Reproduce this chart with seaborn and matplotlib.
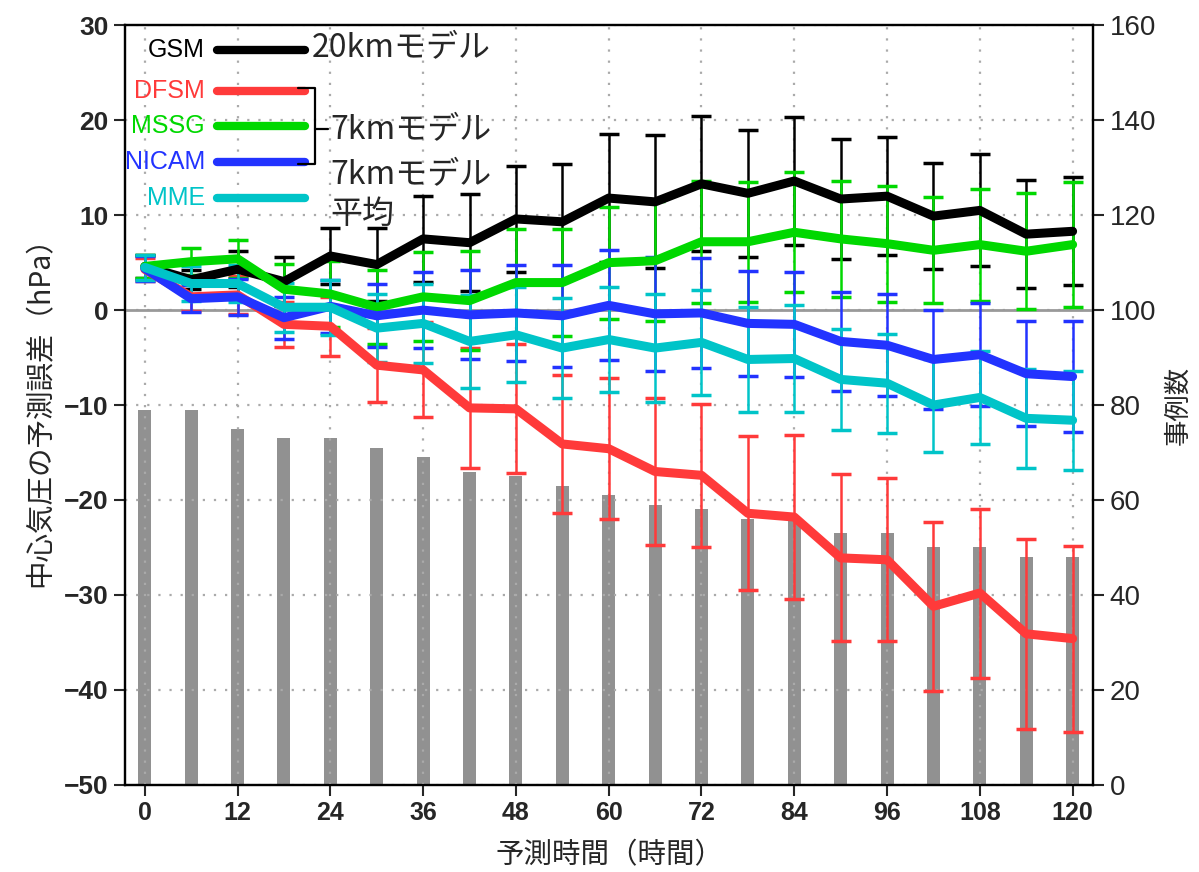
import numpy as np
import pandas as pd
import matplotlib
matplotlib.use('Agg')
import matplotlib.pyplot as plt
import seaborn as sns

# forecast hours
hours = [0, 6, 12, 18, 24, 30, 36, 42, 48, 54, 60, 66, 72, 78, 84, 90, 96, 102, 108, 114, 120]

# number of cases (right axis)
counts = [79, 79, 75, 73, 73, 71, 69, 66, 65, 63, 61, 59, 58, 56, 56, 53, 53, 50, 50, 48, 48]

# mean central pressure error (hPa) and spread for each model
gsm_mean = [4.6, 3.2, 4.3, 3.0, 5.7, 4.8, 7.5, 7.1, 9.6, 9.3, 11.8, 11.4, 13.3, 12.3, 13.6, 11.7, 12.0, 9.9, 10.5, 8.0, 8.3]
gsm_sd = [1.2, 1.0, 1.9, 2.6, 2.9, 3.8, 4.5, 5.1, 5.6, 6.1, 6.7, 7.0, 7.1, 6.7, 6.7, 6.3, 6.2, 5.6, 5.9, 5.7, 5.7]

dfsm_mean = [4.3, 1.4, 1.6, -1.5, -1.7, -5.8, -6.3, -10.3, -10.4, -14.1, -14.6, -17.0, -17.4, -21.4, -21.8, -26.1, -26.3, -31.2, -29.8, -34.1, -34.6]
dfsm_sd = [1.2, 1.5, 2.0, 2.4, 3.1, 3.9, 5.0, 6.3, 6.8, 7.3, 7.4, 7.7, 7.5, 8.1, 8.6, 8.8, 8.6, 8.9, 8.9, 10.0, 9.8]

mssg_mean = [4.6, 5.1, 5.4, 2.2, 1.7, 0.3, 1.4, 1.0, 2.9, 2.9, 5.0, 5.2, 7.2, 7.2, 8.2, 7.5, 7.0, 6.3, 6.9, 6.2, 6.9]
mssg_sd = [1.2, 1.4, 2.0, 2.7, 3.5, 3.9, 4.7, 5.2, 5.6, 5.6, 5.9, 6.3, 6.4, 6.3, 6.3, 6.1, 6.1, 5.6, 5.9, 6.1, 6.6]

nicam_mean = [4.4, 1.2, 1.4, -0.8, 0.4, -0.6, 0.0, -0.5, -0.3, -0.6, 0.5, -0.4, -0.3, -1.4, -1.5, -3.3, -3.7, -5.2, -4.7, -6.7, -7.0]
nicam_sd = [1.3, 1.4, 1.9, 2.2, 2.8, 3.3, 4.0, 4.7, 5.1, 5.4, 5.8, 6.0, 5.8, 5.5, 5.5, 5.2, 5.4, 5.2, 5.4, 5.5, 5.8]

mme_mean = [4.5, 2.8, 2.8, 0.3, 0.3, -1.9, -1.4, -3.3, -2.6, -4.0, -3.1, -4.0, -3.4, -5.2, -5.1, -7.3, -7.7, -10.0, -9.2, -11.4, -11.6]
mme_sd = [1.3, 1.8, 1.9, 2.6, 2.9, 3.6, 4.2, 4.9, 5.0, 5.3, 5.5, 5.7, 5.5, 5.5, 5.6, 5.3, 5.2, 4.9, 4.9, 5.2, 5.2]

models = ['GSM', 'DFSM', 'MSSG', 'NICAM', 'MME']
colors = {
    'GSM': '#000000',
    'DFSM': '#ff3a3a',
    'MSSG': '#00d800',
    'NICAM': '#2233ff',
    'MME': '#00c4c8',
}

means = {'GSM': gsm_mean, 'DFSM': dfsm_mean, 'MSSG': mssg_mean, 'NICAM': nicam_mean, 'MME': mme_mean}
sds = {'GSM': gsm_sd, 'DFSM': dfsm_sd, 'MSSG': mssg_sd, 'NICAM': nicam_sd, 'MME': mme_sd}

df = pd.concat([
    pd.DataFrame({'hour': hours, 'model': m, 'error': means[m], 'sd': sds[m]})
    for m in models
], ignore_index=True)

sns.set_style('ticks')
plt.rcParams['font.family'] = ['Liberation Sans', 'Noto Sans CJK JP', 'DejaVu Sans']
jp = ['Noto Sans CJK JP', 'DejaVu Sans']

fig = plt.figure(figsize=(11.99, 8.72), dpi=100)
ax = fig.add_axes([0.104, 0.1, 0.808, 0.871])
ax2 = ax.twinx()

# case counts as gray bars on right axis
sns.barplot(x=hours, y=counts, native_scale=True, width=0.28, color='#919191',
            saturation=1, edgecolor='none', ax=ax2)
ax2.set_ylim(0, 160)
ax2.set_yticks(np.arange(0, 161, 20))
ax2.set_ylabel('事例数', family=jp, fontsize=19, labelpad=6)
ax2.tick_params(axis='y', labelsize=20, length=8, width=1.5, direction='out')

# lines on top of bars
ax.set_zorder(ax2.get_zorder() + 1)
ax.patch.set_visible(False)

for m in models:
    d = df[df['model'] == m]
    ax.errorbar(d['hour'], d['error'], yerr=d['sd'], fmt='none', ecolor=colors[m],
                elinewidth=1.8, capsize=7, capthick=2.5, zorder=2)

sns.lineplot(data=df, x='hour', y='error', hue='model', hue_order=models,
             palette=colors, linewidth=6.5, legend=False, errorbar=None,
             ax=ax, zorder=3)

ax.axhline(0, color='#999999', lw=2, zorder=1.5)

ax.set_xlim(-2.6, 122.7)
ax.set_ylim(-50, 30)
ax.set_xticks(np.arange(0, 121, 12))
ax.set_yticks(np.arange(-50, 31, 10))
ax.grid(True, linestyle=(0, (1, 4)), color='#aaaaaa', lw=1.6)
ax.tick_params(axis='both', length=8, width=1.5, direction='out')
for lab in ax.get_yticklabels():
    lab.set_fontweight('bold')
    lab.set_fontsize(19)
for lab in ax.get_xticklabels():
    lab.set_fontweight('bold')
    lab.set_fontsize(18)

ax.set_xlabel('予測時間（時間）', family=jp, fontsize=20.5, labelpad=11)
ax.set_ylabel('中心気圧の予測誤差（hPa）', family=jp, fontsize=20.5, labelpad=6)

for sp in ax.spines.values():
    sp.set_linewidth(1.6)
    sp.set_color('black')
for sp in ax2.spines.values():
    sp.set_linewidth(1.6)

# hand-drawn legend in the upper left corner
leg_y = [0.968, 0.914, 0.868, 0.820, 0.772]
for m, yy in zip(models, leg_y):
    ax.plot([0.095, 0.186], [yy, yy], transform=ax.transAxes, color=colors[m],
            lw=6, solid_capstyle='round', zorder=5)
    ax.text(0.083, yy, m, transform=ax.transAxes, color=colors[m], fontsize=18,
            ha='right', va='center', zorder=5)

# bracket for the 7km models
ax.plot([0.179, 0.196, 0.196, 0.179], [0.918, 0.918, 0.818, 0.818],
        transform=ax.transAxes, color='black', lw=1.6, zorder=5)
ax.plot([0.196, 0.210], [0.864, 0.864], transform=ax.transAxes, color='black', lw=1.6, zorder=5)

ax.text(0.193, 0.970, '20kmモデル', transform=ax.transAxes, family=jp, fontsize=23,
        ha='left', va='center', zorder=5)
ax.text(0.212, 0.862, '7kmモデル', transform=ax.transAxes, family=jp, fontsize=23,
        ha='left', va='center', zorder=5)
ax.text(0.212, 0.803, '7kmモデル', transform=ax.transAxes, family=jp, fontsize=23,
        ha='left', va='center', zorder=5)
ax.text(0.212, 0.752, '平均', transform=ax.transAxes, family=jp, fontsize=23,
        ha='left', va='center', zorder=5)

fig.savefig('out.png', dpi=100)
